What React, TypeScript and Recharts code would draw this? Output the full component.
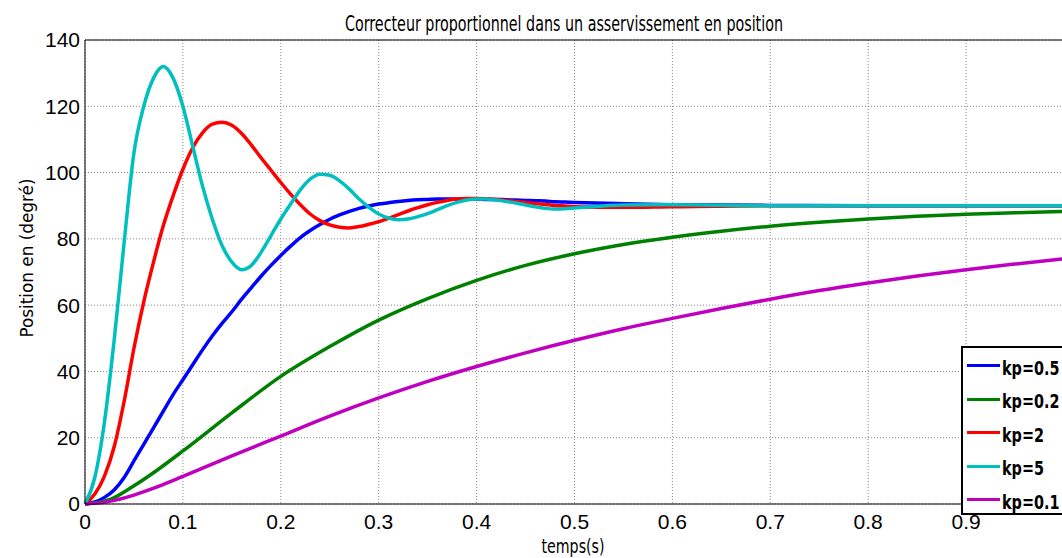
import React from "react";
import { Legend, Line, LineChart, CartesianGrid, ReferenceLine, XAxis, YAxis } from "recharts";

// time grid for the fast responses (kp = 0.5, 2, 5)
const tFast = [
  0, 0.01, 0.02, 0.03, 0.04, 0.05, 0.06, 0.07, 0.08, 0.09,
  0.1, 0.11, 0.12, 0.13, 0.14, 0.15, 0.16, 0.17, 0.18, 0.19,
  0.2, 0.21, 0.22, 0.23, 0.24, 0.25, 0.26, 0.27, 0.28, 0.29,
  0.3, 0.31, 0.32, 0.33, 0.34, 0.35, 0.36, 0.37, 0.38, 0.39,
  0.4, 0.41, 0.42, 0.43, 0.44, 0.45, 0.46, 0.47, 0.48, 0.49,
  0.5, 0.55, 0.6, 0.7, 0.8, 0.9, 1.0,
];
// time grid for the slow responses (kp = 0.2, 0.1)
const tSlow = [
  0, 0.025, 0.05, 0.075, 0.1, 0.15, 0.2, 0.25, 0.3, 0.35, 0.4, 0.45,
  0.5, 0.55, 0.6, 0.65, 0.7, 0.75, 0.8, 0.85, 0.9, 0.95, 1.0,
];

const kp05 = [
  0, 0.6, 2, 4.3, 8, 13, 18, 23, 28, 33,
  37.5, 42, 46.5, 50.7, 54.5, 58, 61.8, 65.3, 68.8, 72,
  75, 77.8, 80.4, 82.5, 84.3, 85.9, 87.2, 88.3, 89.2, 89.9,
  90.5, 90.9, 91.3, 91.6, 91.8, 91.9, 92, 92, 92, 92,
  92, 91.9, 91.9, 91.8, 91.7, 91.6, 91.5, 91.4, 91.2, 91.1,
  91, 90.6, 90.3, 90.1, 90, 90, 90,
];
const kp2 = [
  0, 3, 8.5, 17.5, 31, 47, 61, 73, 84, 93,
  101, 107.5, 112, 114.6, 115.2, 114.3, 111.8, 108.3, 104.4, 100.7,
  97, 93.5, 90.3, 87.5, 85.5, 84.2, 83.5, 83.3, 83.7, 84.4,
  85.2, 86.2, 87.3, 88.4, 89.4, 90.3, 91, 91.6, 92, 92.2,
  92.2, 92.1, 91.9, 91.6, 91.3, 91, 90.7, 90.4, 90.1, 89.9,
  89.7, 89.5, 89.7, 90, 90, 90, 90,
];
const kp5 = [
  0, 8, 25, 50, 79, 106, 120, 128.5, 132, 128.5,
  120, 108, 96, 86, 78, 73, 70.7, 72, 76, 81,
  86, 90.5, 94.8, 98, 99.5, 99.2, 97.5, 95, 92, 89.5,
  87.5, 86.3, 85.8, 86, 86.7, 87.6, 88.8, 90, 91, 91.7,
  92, 92, 91.7, 91.3, 90.8, 90.2, 89.7, 89.2, 89, 89.1,
  89.3, 90.2, 90.3, 90, 90, 90, 90,
];
const kp02 = [
  0, 1.3, 5.5, 10.5, 16, 27.5, 38.5, 47.5, 55.5, 62, 67.5, 72,
  75.5, 78.3, 80.5, 82.3, 83.8, 85, 86, 86.8, 87.4, 87.9, 88.3,
];
const kp01 = [
  0, 0.8, 2.7, 5.3, 8.3, 14.5, 20.5, 26.5, 32, 37, 41.5, 45.6,
  49.4, 52.9, 56, 59, 61.8, 64.4, 66.7, 68.8, 70.7, 72.4, 74,
];

// the 1.0 tick sits just past the right edge of the window in the original
const xTicks = [0, 0.1, 0.2, 0.3, 0.4, 0.5, 0.6, 0.7, 0.8, 0.9];
const yTicks = [0, 20, 40, 60, 80, 100, 120, 140];

const toPoints = (ts: number[], vs: number[]) => ts.map((t, i) => ({ t, v: vs[i] }));

const series = [
  { name: "kp=0.5", color: "#0000FF", data: toPoints(tFast, kp05) },
  { name: "kp=0.2", color: "#008000", data: toPoints(tSlow, kp02) },
  { name: "kp=2", color: "#FF0000", data: toPoints(tFast, kp2) },
  { name: "kp=5", color: "#00BFBF", data: toPoints(tFast, kp5) },
  { name: "kp=0.1", color: "#BF00BF", data: toPoints(tSlow, kp01) },
];

const narrow = "'Liberation Sans Narrow', 'DejaVu Sans Condensed', 'Arial Narrow', sans-serif";
const tickFont = { fontFamily: "'Liberation Sans', Arial, sans-serif", fontSize: 21, fill: "#000" };

function LegendBox() {
  return (
    <div
      style={{
        width: 110,
        height: 169,
        background: "#fff",
        border: "2px solid #000",
        boxSizing: "border-box",
        paddingTop: 1,
      }}
    >
      {series.map((s) => (
        <div key={s.name} style={{ display: "flex", alignItems: "center", height: 33.5 }}>
          <div style={{ width: 33, height: 3, background: s.color, marginLeft: 4, marginRight: 2, flex: "none" }} />
          <span
            style={{
              display: "inline-block",
              fontFamily: narrow,
              fontStretch: "condensed",
              fontWeight: 700,
              fontSize: 20,
              color: "#000",
              lineHeight: 1,
              whiteSpace: "nowrap",
              transform: "scaleX(0.8)",
              transformOrigin: "left center",
              marginTop: 4,
            }}
          >
            {s.name}
          </span>
        </div>
      ))}
    </div>
  );
}

export default function App() {
  return (
    <div style={{ position: "fixed", left: 0, top: 0, width: 1062, height: 558, overflow: "hidden", background: "#fff" }}>
      <LineChart width={1075} height={558} margin={{ top: 40, right: 11, bottom: 0, left: 0 }}>
        <CartesianGrid stroke="#888" strokeDasharray="1 2" />
        <XAxis
          dataKey="t"
          type="number"
          domain={[0, 1]}
          ticks={xTicks}
          allowDuplicatedCategory={false}
          height={54}
          tickLine={false}
          tickSize={0}
          tickMargin={10}
          stroke="#000"
          tick={tickFont}
          tickFormatter={(v: number) => `${v}`}
        />
        <YAxis
          type="number"
          domain={[0, 140]}
          ticks={yTicks}
          width={85}
          tickLine={false}
          tickSize={0}
          tickMargin={5}
          stroke="#000"
          tick={tickFont}
        />
        <ReferenceLine y={140} stroke="#000" />
        {series.map((s) => (
          <Line
            key={s.name}
            data={s.data}
            dataKey="v"
            name={s.name}
            type="monotone"
            stroke={s.color}
            strokeWidth={3.5}
            dot={false}
            isAnimationActive={false}
          />
        ))}
        <Legend
          layout="vertical"
          align="center"
          verticalAlign="middle"
          content={() => <LegendBox />}
          wrapperStyle={{ left: 961, top: 346, width: 110, height: 169 }}
        />
        <text
          x={564}
          y={31}
          textAnchor="middle"
          fontFamily={narrow}
          fontSize={22}
          textLength={438}
          lengthAdjust="spacingAndGlyphs"
        >
          Correcteur proportionnel dans un asservissement en position
        </text>
        <text
          x={573}
          y={553}
          textAnchor="middle"
          fontFamily={narrow}
          fontSize={19}
          textLength={63}
          lengthAdjust="spacingAndGlyphs"
        >
          temps(s)
        </text>
        <text
          transform="translate(33,258) rotate(-90)"
          textAnchor="middle"
          fontFamily={narrow}
          fontSize={17}
          textLength={159}
          lengthAdjust="spacingAndGlyphs"
        >
          Position en (degré)
        </text>
      </LineChart>
    </div>
  );
}
